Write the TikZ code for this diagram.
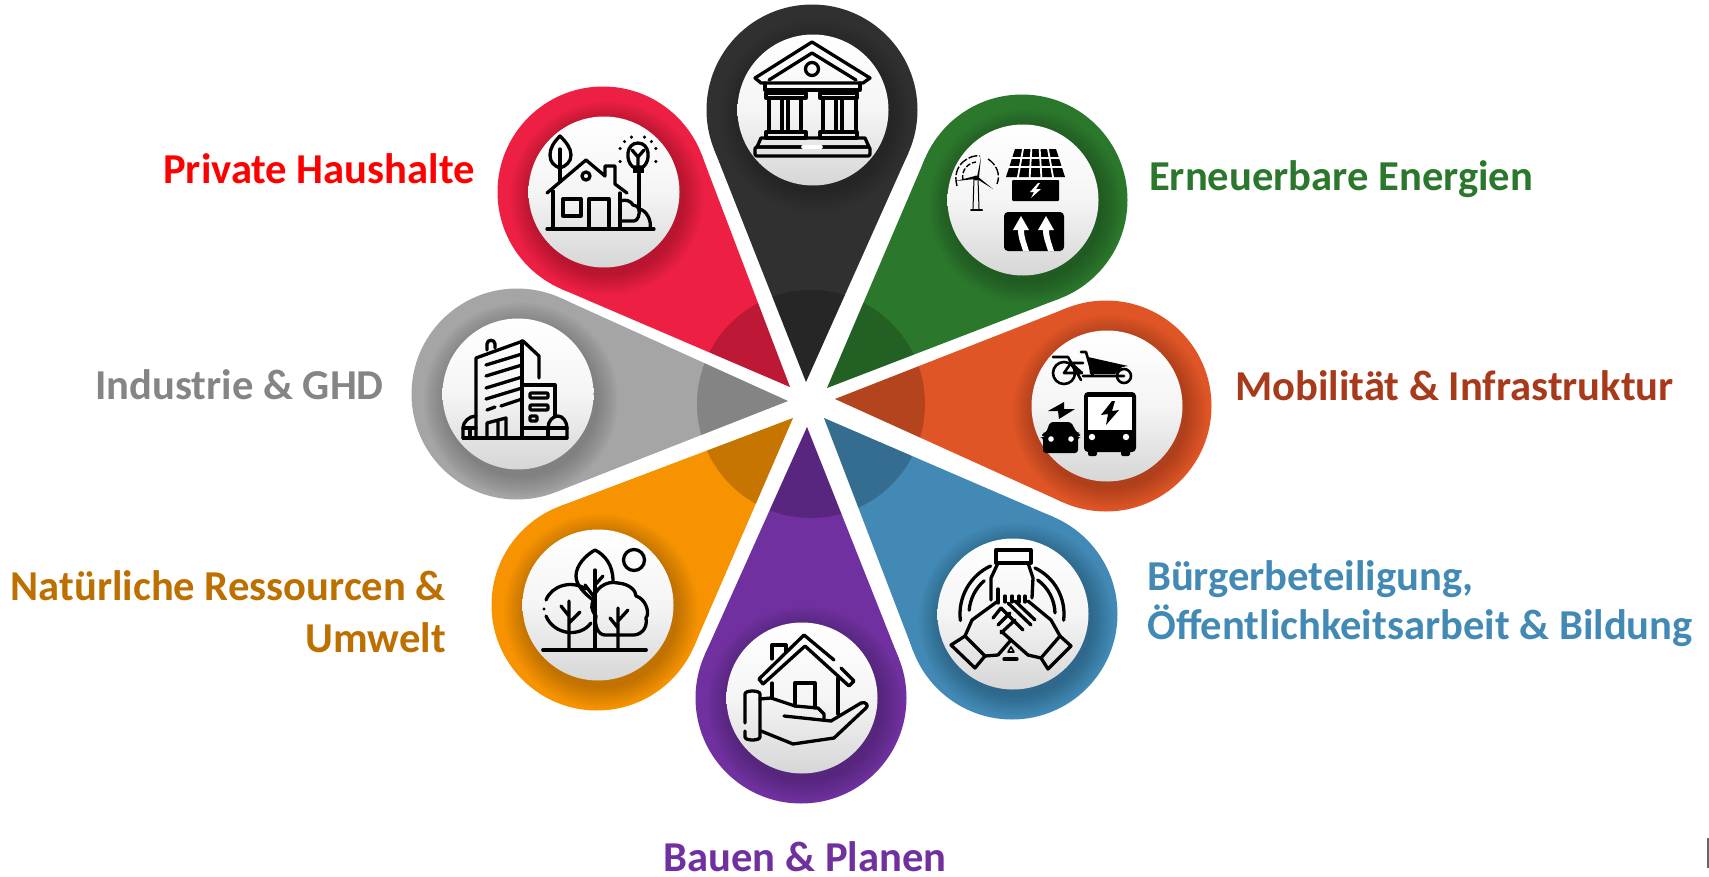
\documentclass[tikz,border=0pt]{standalone}
\usepackage{fontspec}
\setmainfont{Carlito}
\usetikzlibrary{calc}
\definecolor{pinblack}{HTML}{303030}
\definecolor{pinred}{HTML}{ED2044}
\definecolor{pingreen}{HTML}{2B782C}
\definecolor{pinrust}{HTML}{E05526}
\definecolor{pinblue}{HTML}{4289B5}
\definecolor{pinpurple}{HTML}{70309F}
\definecolor{pinorange}{HTML}{F79300}
\definecolor{pingrey}{HTML}{A5A5A5}
\definecolor{textrust}{HTML}{A83A1C}
\definecolor{textorange}{HTML}{BD7000}
\definecolor{textgrey}{HTML}{858585}
\tikzset{
  pinbody/.style={circle,minimum size=211pt,inner sep=0pt,outer sep=0pt},
  pindisc/.style={circle,minimum size=151pt,inner sep=0pt,outer sep=0pt,top color=white,bottom color=black!16,middle color=black!4},
  pinlabel/.style={font=\fontsize{42.6}{49}\selectfont\bfseries,inner sep=0pt},
  icon/.style={line width=3.3pt,line cap=round,line join=round},
}
\begin{document}
\begin{tikzpicture}[x=1pt,y=-1pt]
  \useasboundingbox (0,0) rectangle (1709,876);
  % pins: name/centre/tip/colour
  \foreach \name/\cx/\cy/\tx/\ty/\col in {
    hall/812/110/806/382/pinblack,
    solar/1022/200/827/388/pingreen,
    home/603/192/790/387/pinred,
    plant/517/394/788/401/pingrey,
    trees/597/605/793/418/pinorange,
    build/801/698/807/427/pinpurple,
    hands/1012/614/824/418/pinblue,
    move/1106/406/835/399/pinrust}
  {
    \node[pinbody] (\name-body) at (\cx,\cy) {};
    \coordinate (\name-tip) at (\tx,\ty);
    \fill[\col] (\cx,\cy) circle[radius=105.5];
    \fill[\col] (\name-tip) -- (tangent cs:node=\name-body,point={(\name-tip)},solution=1)
      -- (\cx,\cy) -- (tangent cs:node=\name-body,point={(\name-tip)},solution=2) -- cycle;
    \begin{scope}
      \clip (\name-tip) -- (tangent cs:node=\name-body,point={(\name-tip)},solution=1)
        -- (tangent cs:node=\name-body,point={(\name-tip)},solution=2) -- cycle;
      \fill[black,opacity=.2] (811,404) circle[radius=114];
    \end{scope}
    \foreach \r in {77,79,...,97}
      \fill[black,opacity=.02] (\cx+4,\cy+6) circle[radius=\r];
    \node[pindisc] (\name-disc) at (\cx+1,\cy) {};
  }
  % hall
  \begin{scope}[shift={(hall-disc.center)},icon]
    \draw (-58,-32) -- (-1,-68) -- (57,-32) -- (50,-27) -- (-52,-27) -- cycle;
    \draw (-44,-30) -- (-1,-57) -- (43,-30);
    \draw (-1,-41) circle[radius=6.5];
    \draw (-48,-27) -- (-48,-20) -- (47,-20) -- (47,-27);
    \draw (-47,-17) rectangle (-7,-12);
    \draw (7,-17) rectangle (44,-12);
    \foreach \a/\b in {-44/-31,-25/-12,10/23,29/43}
      \draw (\a,-12) rectangle (\b,22);
    \draw (-47,22) rectangle (-7,28);
    \draw (7,22) rectangle (44,28);
    \draw (-52,28) -- (52,28) -- (56,37) -- (-56,37) -- cycle;
    \draw[rounded corners=2pt] (-58,37) rectangle (57,46);
    \draw[white,line width=3.6pt] (-10,37) -- (8,37);
  \end{scope}
  % solar
  \begin{scope}[shift={(solar-disc.center)},icon]
    \fill[black] (-8,-51) -- (33,-51) -- (42,-23) -- (-17,-23) -- cycle;
    \foreach \k in {1,2,3,4}
      \draw[white,line width=1.8pt,line cap=butt] ({-8+8.2*\k},-52) -- ({-17+11.8*\k},-22);
    \draw[white,line width=1.8pt,line cap=butt] (-12,-42) -- (37,-42) (-15,-33) -- (40,-33);
    \fill[black,rounded corners=1pt] (-11,-20) rectangle (36,1);
    \fill[white] (15,-17) -- (7,-8) -- (11,-8) -- (8,-2) -- (18,-11) -- (13,-11) -- (17,-17) -- cycle;
    \fill[black,rounded corners=4pt] (-19,12) -- (41,12) -- (41,51) -- (-19,51) -- cycle;
    \fill[white] (-2,16) -- (6,30) -- (1,30) .. controls (1,38) and (4,44) .. (6,51) -- (0,51)
      .. controls (-2,44) and (-5,38) .. (-5,30) -- (-10,30) -- cycle;
    \fill[white] (23,16) -- (31,30) -- (26,30) .. controls (26,38) and (29,44) .. (31,51) -- (25,51)
      .. controls (23,44) and (20,38) .. (20,30) -- (15,30) -- cycle;
    \draw[line width=1pt] (-49,-22) -- (-50,9) (-45,-22) -- (-44,9);
    \draw[line width=2pt] (-52,10) -- (-41,10);
    \fill[black] (-46,-23) -- (-42,-43) -- (-44,-23) -- cycle;
    \fill[black] (-48,-24) -- (-67,-19) -- (-48,-21) -- cycle;
    \fill[black] (-46,-24) -- (-30,-11) -- (-46,-21) -- cycle;
    \draw[line width=1.4pt,line cap=butt,dash pattern=on 9pt off 2pt] (-66,-14) .. controls (-72,-36) and (-52,-46) .. (-43,-44);
    \draw[line width=1.4pt,line cap=butt,dash pattern=on 9pt off 2pt] (-35,-41) .. controls (-27,-36) and (-22,-26) .. (-26,-16);
    \draw[line width=1.4pt,line cap=butt,dash pattern=on 5pt off 2pt] (-60,-20) .. controls (-62,-30) and (-55,-37) .. (-47,-38);
    \fill[black] (-47,-22) circle[radius=2.5];
  \end{scope}
  % home
  \begin{scope}[shift={(home-disc.center)},icon]
    \draw (-44,-56) .. controls (-50,-50) and (-54,-44) .. (-54,-37) .. controls (-54,-30) and (-50,-26) .. (-44,-24)
      .. controls (-38,-26) and (-33,-30) .. (-33,-37) .. controls (-33,-44) and (-38,-50) .. (-44,-56) -- cycle;
    \draw (-44,-43) -- (-44,-11);
    \draw (-57,1) -- (-18,-32) -- (1,-16) -- (1,-26) -- (11,-26) -- (11,-8) -- (23,1);
    \draw (-51,-1) -- (-51,37) (16,1) -- (16,37);
    \draw (-57,37) -- (50,37);
    \draw (-41,7) rectangle (-23,24);
    \draw (-15,37) -- (-15,7) -- (5,7) -- (5,37);
    \draw (-18,-16) circle[radius=4];
    \draw (16,9) .. controls (22,7) and (27,9) .. (29,13) .. controls (32,13) and (34,15) .. (35,17)
      .. controls (42,18) and (48,28) .. (46,37);
    \draw (17,29) -- (30,29) .. controls (34,29) and (36,22) .. (35,17);
    \draw (35,-18) -- (35,17);
    \draw (29,-25) .. controls (21,-31) and (22,-49) .. (34,-49) .. controls (46,-49) and (47,-31) .. (39,-25) -- cycle;
    \draw (28,-42) -- (34,-35) -- (40,-42) (34,-35) -- (34,-25);
    \fill[black] (29,-25) rectangle (40,-19);
    \foreach \a in {-160,-110,-70,-20,20,160,-135,-45}
      \fill[black] ($(34,-37)+(\a:19)$) circle[radius=1.7];
  \end{scope}
  % plant
  \begin{scope}[shift={(plant-disc.center)},icon]
    \draw (-42,44) -- (-42,-36) -- (5,-53) -- (21,-38) -- (21,-16);
    \draw (4,-53) -- (4,44);
    \draw (-31,-44) -- (-31,-50) .. controls (-31,-55) and (-23,-55) .. (-23,-50) -- (-23,-46);
    \draw (-32,-29) -- (4,-40) (-32,-18) -- (4,-29) (-32,-6) -- (4,-17) (-32,5) -- (4,-6);
    \draw (-31,16) -- (-23,13) (-17,12) -- (4,5);
    \draw (5,-9) -- (37,-9) -- (37,22);
    \draw[rounded corners=1pt] (12,-1) rectangle (30,4) (12,11) rectangle (30,16) (12,22) rectangle (19,27);
    \draw (-55,44) -- (49,44);
    \draw (-55,44) -- (-55,34) .. controls (-55,28) and (-49,22) .. (-42,22);
    \draw (-55,34) -- (-42,34) (-48,34) -- (-48,44);
    \draw (30,34) .. controls (30,27) and (35,22) .. (40,22) .. controls (45,22) and (49,28) .. (49,34) -- (49,44);
    \draw (5,34) -- (49,34) (30,34) -- (30,44);
    \draw (-31,44) -- (-31,29) -- (-12,24) -- (-12,44) (-20,27) -- (-20,44);
  \end{scope}
  % move
  \begin{scope}[shift={(move-disc.center)},icon]
    \draw[line width=2.6pt] (-43,-33) circle[radius=11] (17,-30) circle[radius=7];
    \draw[line width=2.6pt] (-54,-49) -- (-39,-49) (-43,-33) -- (-36,-43) -- (-25,-33) -- (-43,-33)
      (-39,-49) -- (-26,-26) (-26,-54) -- (-21,-54) -- (-14,-30) (-36,-43) -- (-24,-43) (-24,-30) -- (17,-30);
    \fill[black] (-19,-49) -- (21,-40) -- (15,-39) -- (8,-32) -- (-17,-32) -- cycle;
    \fill[black,rounded corners=4pt] (-23,-14) rectangle (29,46);
    \fill[white] (-19,-9) rectangle (25,24);
    \fill[white] (-15,31) circle[radius=3.2] (19,31) circle[radius=3.2];
    \fill[black,rounded corners=2pt] (-19,40) rectangle (-10,50) (14,40) rectangle (23,50);
    \fill[black] (5,-5) -- (-6,9) -- (1,8) -- (-1,19) -- (12,4) -- (5,5) -- (8,-5) -- cycle;
    \fill[black,rounded corners=3pt] (-57,16) -- (-36,16) -- (-30,27) -- (-27,27) -- (-27,31) -- (-29,31) -- (-29,47)
      -- (-64,47) -- (-64,31) -- (-65,31) -- (-65,27) -- (-61,27) -- cycle;
    \fill[white] (-56,33) circle[radius=2.8] (-36,33) circle[radius=2.8];
    \fill[black] (-43,-4) -- (-59,5) -- (-49,5) -- (-48,13) -- (-32,3) -- (-43,3) -- cycle;
  \end{scope}
  % hands
  \begin{scope}[shift={(hands-disc.center)},icon]
    \draw (-17,-64) rectangle (18,-51);
    \draw (-15,-51) -- (-22,-36) -- (-22,-14) (15,-51) -- (20,-36) -- (19,-16);
    \draw (-15,-25) -- (-15,-11) (-8,-18) -- (-8,-12) (-1,-18) -- (-1,-12) (6,-18) -- (6,-12) (12,-18) -- (12,-12);
    \draw (245:53) arc[start angle=245,end angle=173,radius=53];
    \draw (229:44) arc[start angle=229,end angle=185,radius=44];
    \draw (-64.5:51) arc[start angle=-64.5,end angle=7,radius=51];
    \draw (-54:42) arc[start angle=-54,end angle=-1.5,radius=42];
    \draw (-62,31) -- (-48,22) -- (-28,42) -- (-38,54) -- cycle;
    \draw (28,44) -- (47,22) -- (58,32) -- (35,55) -- cycle;
    \draw (-48,22) -- (-41,6) -- (-15,-13);
    \draw (-28,42) -- (-15,41) -- (-2,26);
    \draw (47,22) -- (38,6) -- (15,-13);
    \draw (28,44) -- (15,41) -- (-2,26);
    \draw (-12,-6) -- (10,16) (-5,-11) -- (18,11) (2,-13) -- (22,6);
    \draw (-20,4) -- (-12,-6) (-15,11) -- (-3,-1) (-12,19) -- (2,6);
    \draw (-2,26) -- (-12,17);
    \draw[line width=1.6pt] (-5,38) -- (-2,33) -- (1,38) -- cycle;
    \draw (-9,45) -- (4,45);
  \end{scope}
  % build
  \begin{scope}[shift={(build-disc.center)},icon]
    \draw (-39,-14) -- (3,-52) -- (47,-12) -- (52,-17) -- (39,-30);
    \draw (32,-38) -- (2,-63) -- (-43,-19) -- (-39,-14);
    \draw (-30,-39) -- (-30,-53) -- (-16,-53) -- (-16,-46);
    \draw (-30,-15) -- (-30,0) (36,-20) -- (36,16);
    \draw (-7,8) -- (-7,-15) -- (13,-15) -- (13,10);
    \draw (-57,25) -- (-57,-4) .. controls (-57,-8) and (-42,-8) .. (-42,-4) -- (-42,39)
      .. controls (-42,43) and (-57,43) .. (-57,39) -- (-57,33);
    \draw (-42,1) -- (-31,0) -- (-7,8) -- (16,10) -- (22,16) -- (22,21);
    \draw (-18,18) -- (29,23) -- (59,5) .. controls (64,3) and (67,8) .. (64,10) -- (32,40) -- (-9,46) -- (-41,33);
  \end{scope}
  % trees
  \begin{scope}[shift={(trees-disc.center)},icon]
    \draw[line width=3.8pt] (-55,45) -- (48,45);
    \draw (36,-45) circle[radius=10.5];
    \draw (-5,-5) .. controls (-14,-12) and (-22,-20) .. (-22,-29) .. controls (-22,-40) and (-12,-50) .. (-3,-55)
      .. controls (7,-50) and (15,-40) .. (15,-24);
    \draw (-3,-35) -- (-3,45);
    \draw (-13,-20) -- (-3,-7) (5,-29) -- (-3,-20);
    \draw (-29,-4) -- (-29,45) (-37,1) -- (-29,11) (-18,7) -- (-29,18);
    \draw (-52,-5) .. controls (-46,-20) and (-26,-25) .. (-12,-16);
    \draw (-52,11) .. controls (-44,30) and (-18,33) .. (-7,18);
    \fill[black] (-54,4) circle[radius=1.7];
    \draw (-5,-4) .. controls (-4,-16) and (8,-25) .. (20,-22) .. controls (32,-21) and (38,-14) .. (38,-9)
      .. controls (48,-6) and (52,8) .. (48,13) .. controls (50,24) and (42,31) .. (33,30) -- (7,30)
      .. controls (0,30) and (-4,20) .. (-2,11) .. controls (-7,5) and (-7,0) .. (-5,-4);
    \draw (20,3) -- (20,45) (12,13) -- (20,23) (30,5) -- (20,16);
  \end{scope}
  % labels
  \node[pinlabel,text=red,anchor=base east] (homelabel) at (475,183) {Private Haushalte};
  \node[pinlabel,text=textgrey,anchor=base east] (plantlabel) at (384,399) {Industrie \& GHD};
  \node[pinlabel,text=textorange,anchor=east,align=right] (treeslabel) at (446,612) {Natürliche Ressourcen \&\\[3pt]Umwelt};
  \node[pinlabel,text=pinpurple,anchor=base] (buildlabel) at (805,871) {Bauen \& Planen};
  \node[pinlabel,text=pinblue,anchor=west,align=left] (handslabel) at (1147,604) {Bürgerbeteiligung,\\Öffentlichkeitsarbeit \& Bildung};
  \node[pinlabel,text=textrust,anchor=base west] (movelabel) at (1235,400) {Mobilität \& Infrastruktur};
  \node[pinlabel,text=pingreen,anchor=base west] (solarlabel) at (1149,190) {Erneuerbare Energien};
  \coordinate (marktop) at (1708,838);
  \coordinate (markend) at (1708,868);
  \draw[black!60,line width=1.5pt] (marktop) -- (markend);
\end{tikzpicture}
\end{document}
